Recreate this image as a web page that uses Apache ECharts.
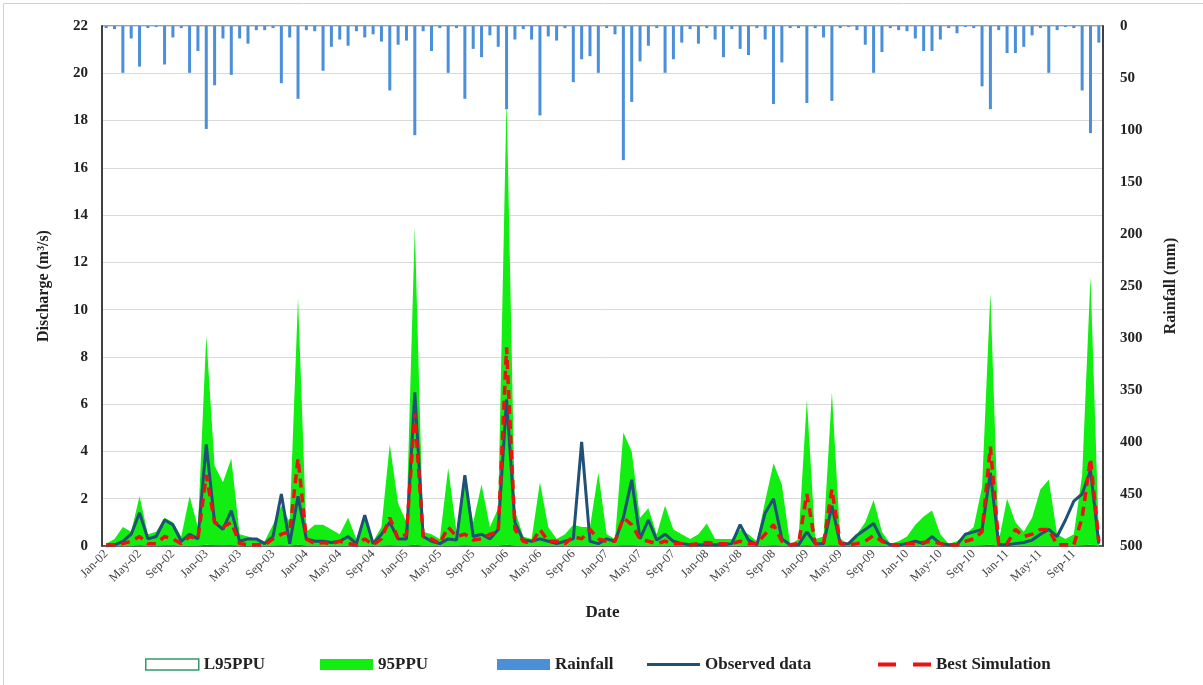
<!DOCTYPE html>
<html>
<head>
<meta charset="utf-8">
<script src="https://cdn.jsdelivr.net/npm/echarts@6/dist/echarts.min.js"></script>
<style>
html,body{margin:0;padding:0;background:#fff;}
#c{width:1203px;height:685px;}
</style>
</head>
<body>
<div id="c"></div>
<script>
// ---- Data (monthly, Jan-2002 .. Dec-2011) ----
var monthNames = ['Jan','Feb','Mar','Apr','May','Jun','Jul','Aug','Sep','Oct','Nov','Dec'];
var yearLabels = ['02','03','04','05','06','07','08','09','10','11'];

var rainfall = [
 2,3,45,12,39,2,1,37,11,2,45,24,
 99,57,12,47,12,17,4,4,2,55,11,70,
 4,5,43,20,13,19,5,11,8,15,62,18,
 14,105,5,24,2,45,2,70,22,30,9,20,
 80,13,3,13,86,10,14,2,54,32,29,45,
 2,8,129,73,34,19,2,45,32,16,3,17,
 2,13,30,3,22,28,2,13,75,35,2,2,
 74,2,11,72,2,1,4,18,45,25,2,4,
 5,12,24,24,13,2,7,1,2,58,80,4,
 26,26,20,9,2,45,4,1,2,62,103,16
];

var upper95 = [
 0.1,0.3,0.8,0.6,2.1,0.5,0.6,1.2,1.0,0.4,2.1,0.8,
 8.9,3.4,2.7,3.7,0.5,0.4,0.3,0.2,0.9,1.7,1.0,10.5,
 0.6,0.9,0.9,0.7,0.5,1.2,0.3,1.3,0.2,0.8,4.3,1.8,
 1.0,13.5,0.6,0.5,0.3,3.3,0.6,2.9,1.0,2.6,0.8,1.6,
 19.0,1.5,0.4,0.3,2.7,0.8,0.3,0.5,0.9,0.8,0.8,3.1,
 0.5,0.3,4.8,4.0,1.2,1.6,0.5,1.7,0.7,0.5,0.3,0.5,
 0.95,0.3,0.3,0.3,0.7,0.5,0.2,1.9,3.5,2.6,0.05,0.3,
 6.2,0.3,0.4,6.5,0.3,0.1,0.5,1.0,1.95,0.6,0.1,0.2,
 0.4,0.9,1.25,1.5,0.5,0.1,0.2,0.5,0.8,2.5,10.7,0.2,
 2.0,1.0,0.6,1.2,2.4,2.8,0.5,0.3,0.5,3.0,11.4,0.5
];

var lower95 = [
 0,0,0,0,0.02,0,0,0.02,0.02,0,0,0,
 0.05,0.03,0.02,0.03,0,0,0,0,0,0.02,0,0.05,
 0,0,0,0,0,0,0,0,0,0,0.02,0,
 0,0.05,0,0,0,0,0,0.02,0,0,0,0,
 0.05,0,0,0,0,0,0,0,0,0,0,0,
 0,0,0.02,0.02,0,0,0,0,0,0,0,0,
 0,0,0,0,0,0,0,0,0.02,0,0,0,
 0.02,0,0,0.02,0,0,0,0,0,0,0,0,
 0,0,0,0,0,0,0,0,0,0.02,0.05,0,
 0,0,0,0,0,0,0,0,0,0.02,0.05,0
];

var observed = [
 0.0,0.05,0.2,0.5,1.4,0.3,0.4,1.1,0.9,0.2,0.5,0.3,
 4.3,1.0,0.7,1.5,0.2,0.3,0.3,0.1,0.4,2.2,0.1,2.1,
 0.3,0.2,0.2,0.15,0.2,0.4,0.1,1.3,0.1,0.5,1.0,0.3,
 0.3,6.5,0.4,0.2,0.1,0.3,0.25,3.0,0.4,0.5,0.3,0.7,
 6.2,1.0,0.25,0.2,0.3,0.2,0.1,0.2,0.3,4.4,0.2,0.1,
 0.3,0.2,1.2,2.8,0.3,1.1,0.25,0.5,0.2,0.1,0.05,0.05,
 0.05,0.05,0.05,0.1,0.9,0.25,0.05,1.4,2.0,0.3,0.05,0.05,
 0.6,0.1,0.1,1.7,0.1,0.1,0.45,0.7,0.95,0.25,0.05,0.05,
 0.1,0.2,0.1,0.4,0.1,0.05,0.05,0.5,0.6,0.7,3.1,0.05,
 0.05,0.1,0.15,0.25,0.5,0.7,0.4,1.1,1.9,2.2,3.2,0.1
];

var bestSim = [
 0.05,0.05,0.1,0.2,0.4,0.1,0.1,0.4,0.3,0.1,0.4,0.3,
 3.0,1.0,0.8,1.0,0.1,0.05,0.05,0.05,0.3,0.5,0.6,3.7,
 0.3,0.1,0.15,0.1,0.2,0.1,0.05,0.3,0.05,0.3,1.2,0.3,
 0.5,5.6,0.4,0.3,0.1,0.8,0.4,0.5,0.25,0.3,0.5,0.6,
 8.4,0.7,0.2,0.1,0.7,0.2,0.2,0.1,0.4,0.3,0.7,0.3,
 0.2,0.2,1.2,0.9,0.3,0.2,0.1,0.2,0.1,0.1,0.05,0.1,
 0.15,0.1,0.1,0.1,0.2,0.1,0.1,0.5,0.9,0.2,0.05,0.1,
 2.2,0.1,0.1,2.4,0.1,0.05,0.1,0.2,0.45,0.2,0.05,0.05,
 0.1,0.1,0.15,0.2,0.1,0.05,0.05,0.2,0.3,0.6,4.2,0.1,
 0.1,0.7,0.4,0.5,0.7,0.7,0.05,0.05,0.05,1.2,3.7,0.2
];

// ---- Build categories ----
var categories = [];
yearLabels.forEach(function(y){ monthNames.forEach(function(m){ categories.push(m + '-' + y); }); });
var bandWidth = upper95.map(function(u, i){ return +(u - lower95[i]).toFixed(3); });

var serif = 'Liberation Serif';
var chart = echarts.init(document.getElementById('c'), null, {renderer: 'canvas'});

function legendAt(left, name, extra, h, top){
  var d = {name: name};
  for (var k in extra) d[k] = extra[k];
  return {
    show: true, left: left, top: top, orient: 'horizontal',
    itemWidth: 53, itemHeight: h, itemGap: 0,
    textStyle: {fontFamily: serif, fontWeight: 'bold', fontSize: 17, color: '#222'},
    data: [d]
  };
}

var option = {
  animation: false,
  backgroundColor: '#fff',
  graphic: [{
    type: 'rect', left: 1, top: 1,
    shape: {width: 1200, height: 682},
    style: {fill: 'none', stroke: '#d0d0d0', lineWidth: 1}, silent: true
  }],
  legend: [
    legendAt(140, 'L95PPU', {icon: 'rect', itemStyle: {color: '#ffffff', borderColor: '#2f9a70', borderWidth: 1.5}}, 11, 651),
    legendAt(315, '95PPU', {icon: 'rect', itemStyle: {color: '#12ee12'}}, 11, 651),
    legendAt(492, 'Rainfall', {icon: 'rect', itemStyle: {color: '#4a8fd8'}}, 11, 651),
    legendAt(642, 'Observed data', {icon: 'path://M0,0H53V3H0Z', itemStyle: {color: '#1f5075'}}, 3, 651),
    legendAt(873, 'Best Simulation', {icon: 'path://M0,0H18V4H0Z M35,0H53V4H35Z', itemStyle: {color: '#ee1111'}}, 4, 651)
  ],
  grid: {left: 102, right: 100, top: 26, bottom: 139, show: true, borderColor: '#404040', borderWidth: 1},
  xAxis: [{
    type: 'category', data: categories, boundaryGap: true,
    axisLine: {show: true, lineStyle: {color: '#404040', width: 1.5}},
    axisTick: {show: false},
    axisLabel: {interval: 3, rotate: 45, fontFamily: serif, fontSize: 12.5, color: '#444', margin: 6},
    name: 'Date', nameLocation: 'middle', nameGap: 58,
    nameTextStyle: {fontFamily: serif, fontWeight: 'bold', fontSize: 17, color: '#222'},
    splitLine: {show: false}
  }],
  yAxis: [{
    type: 'value', min: 0, max: 22, interval: 2, position: 'left',
    axisLine: {show: true, lineStyle: {color: '#404040', width: 2}},
    axisTick: {show: false},
    axisLabel: {fontFamily: serif, fontWeight: 'bold', fontSize: 15, color: '#222', margin: 14},
    splitLine: {show: true, lineStyle: {color: '#d9d9d9', width: 1}},
    name: 'Discharge (m\u00B3/s)', nameLocation: 'middle', nameGap: 50, nameRotate: 90,
    nameTextStyle: {fontFamily: serif, fontWeight: 'bold', fontSize: 16, color: '#222'}
  }, {
    type: 'value', min: 0, max: 500, interval: 50, inverse: true, position: 'right',
    axisLine: {show: true, lineStyle: {color: '#404040', width: 2}},
    axisTick: {show: false},
    axisLabel: {fontFamily: serif, fontWeight: 'bold', fontSize: 15, color: '#222', margin: 17},
    splitLine: {show: false},
    name: 'Rainfall (mm)', nameLocation: 'middle', nameGap: 60, nameRotate: 90,
    nameTextStyle: {fontFamily: serif, fontWeight: 'bold', fontSize: 16, color: '#222'}
  }],
  series: [
    {
      name: 'L95PPU', type: 'line', stack: 'band', data: lower95,
      symbol: 'none', showSymbol: false, lineStyle: {width: 0}, areaStyle: {opacity: 0},
      itemStyle: {color: '#ffffff'}, z: 1
    },
    {
      name: '95PPU', type: 'line', stack: 'band', data: bandWidth,
      symbol: 'none', showSymbol: false, lineStyle: {width: 0}, areaStyle: {color: '#12ee12', opacity: 1},
      itemStyle: {color: '#12ee12'}, z: 2
    },
    {
      name: 'Rainfall', type: 'bar', yAxisIndex: 1, data: rainfall,
      barWidth: 3, itemStyle: {color: '#4a8fd8'}, z: 3
    },
    {
      name: 'Observed data', type: 'line', data: observed,
      symbol: 'none', showSymbol: false, lineStyle: {color: '#1f5075', width: 3},
      itemStyle: {color: '#1f5075'}, z: 4
    },
    {
      name: 'Best Simulation', type: 'line', data: bestSim,
      symbol: 'none', showSymbol: false, lineStyle: {color: '#ee1111', width: 3.5, type: [9, 6]},
      itemStyle: {color: '#ee1111'}, z: 5
    }
  ]
};
chart.setOption(option);
</script>
</body>
</html>
